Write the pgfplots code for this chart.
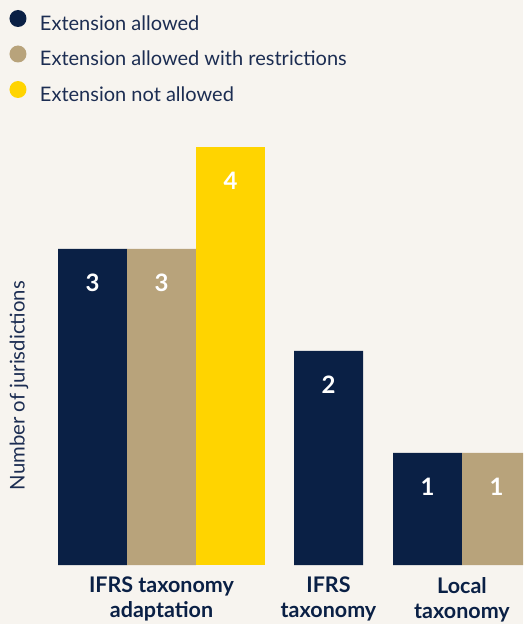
\documentclass[border=0pt]{standalone}
\usepackage{pgfplots}
\pgfplotsset{compat=1.18}
\usepackage{fontspec}
\setmainfont{Lato}
\definecolor{navy}{HTML}{0A2045}
\definecolor{tan}{HTML}{B8A37B}
\definecolor{gold}{HTML}{FFD400}
\definecolor{bgc}{HTML}{F7F4EF}
\definecolor{txt}{HTML}{1C2D52}
\begin{document}
\begin{tikzpicture}
\path[use as bounding box, fill=bgc] (0pt,-59pt) rectangle (523pt,565pt);
\begin{axis}[
  at={(0pt,0pt)}, anchor=south west,
  scale only axis, width=523pt, height=565pt,
  xmin=0, xmax=523,
  y coord trafo/.code={\pgfmathparse{#1+0.098}},
  y coord inv trafo/.code={\pgfmathparse{#1-0.098}},
  ymin=-0.098, ymax=5.441,
  axis line style={draw=none},
  ytick=\empty,
  xtick={161.5,328.5,462},
  xticklabels={{IFRS taxonomy\\adaptation},{IFRS\\taxonomy},{Local\\taxonomy}},
  major tick length=0pt,
  xticklabel style={align=center, inner sep=0pt, yshift=-12pt, text=navy,
    font=\bfseries\fontsize{21.5}{25}\selectfont},
  ylabel={Number of jurisdictions},
  ylabel style={at={(axis cs:19,1.66)}, anchor=center, rotate=0, inner sep=0pt,
    text=txt, font=\fontsize{20.3}{24}\selectfont},
  ybar, bar width=69, bar shift=0pt,
  point meta=explicit,
  nodes near coords={\pgfmathprintnumber[assume math mode=true]{\pgfplotspointmeta}},
  every node near coord/.append style={anchor=center, yshift=-34pt, text=white,
    font=\bfseries\fontsize{24}{28}\selectfont},
  legend style={at={(0.01816,0.9823)}, anchor=north west, draw=none, fill=none,
    inner sep=0pt, outer sep=0pt, row sep=10pt,
    nodes={inner sep=0pt, text height=15pt, text depth=5pt, text=txt,
      font=\fontsize{20}{24}\selectfont}},
  legend cell align=left,
]
\addplot[fill=navy, draw=none,
  legend image code/.code={\path[fill=none,draw=none] (0pt,-5pt) rectangle (30.5pt,15pt); \fill[navy] (8.5pt,7pt) circle (8.5pt);}]
  coordinates {(92.5,3) [3] (328.5,2) [2] (427.5,1) [1]};
\addlegendentry{Extension allowed}
\addplot[fill=tan, draw=none,
  legend image code/.code={\path[fill=none,draw=none] (0pt,-5pt) rectangle (30.5pt,15pt); \fill[tan] (8.5pt,7pt) circle (8.5pt);}]
  coordinates {(161.5,3) [3] (496.5,1) [1]};
\addlegendentry{Extension allowed with restrictions}
\addplot[fill=gold, draw=none,
  legend image code/.code={\path[fill=none,draw=none] (0pt,-5pt) rectangle (30.5pt,15pt); \fill[gold] (8.5pt,7pt) circle (8.5pt);}]
  coordinates {(230.5,4) [4]};
\addlegendentry{Extension not allowed}
\end{axis}
\end{tikzpicture}
\end{document}
